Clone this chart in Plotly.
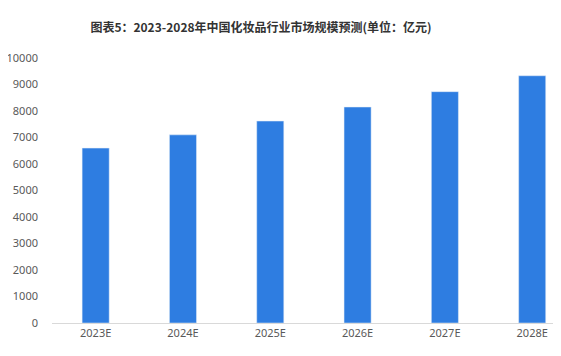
import plotly.graph_objects as go

categories = ["2023E", "2024E", "2025E", "2026E", "2027E", "2028E"]
values = [6600, 7100, 7620, 8150, 8730, 9330]
y_ticks = [0, 1000, 2000, 3000, 4000, 5000, 6000, 7000, 8000, 9000, 10000]
y_tick_labels = [str(v) for v in y_ticks]

# page body has an 8px default margin; figure is sized to fit the window
W, H = 553, 348

fig = go.Figure(go.Bar(x=categories, y=values, marker_color="#2E7DE1", width=0.31))

fig.update_layout(
    width=W, height=H,
    margin=dict(l=44, r=0, t=50, b=33),
    paper_bgcolor="white", plot_bgcolor="white",
    showlegend=False,
    title=dict(text="<b>图表5：2023-2028年中国化妆品行业市场规模预测(单位：亿元)</b>",
               x=253/W, xanchor="center", y=1-20/H, yanchor="middle",
               font=dict(family="Noto Sans CJK SC", size=12, color="#333333")),
    font=dict(family="Noto Sans, Noto Sans CJK SC", size=11, color="#595959"),
)
fig.update_xaxes(range=[-0.5, 5.33], showline=True, linecolor="#D9D9D9", linewidth=1,
                 showgrid=False, ticks="", automargin=False,
                 tickfont=dict(size=11, color="#595959"))
fig.update_yaxes(range=[0, 10000], tickvals=y_ticks, ticktext=y_tick_labels,
                 showgrid=False, zeroline=False, automargin=False,
                 showline=False, ticks="", ticklabelstandoff=13,
                 tickfont=dict(size=11, color="#595959"))

fig.write_html("out.html")
